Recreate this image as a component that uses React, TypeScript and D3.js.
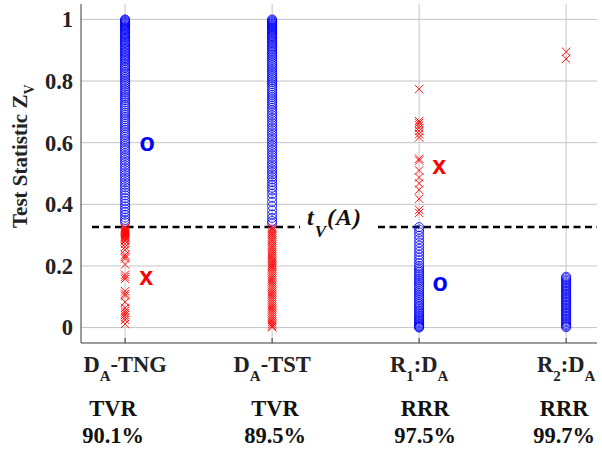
import React from "react";
import * as d3 from "d3";

// ---------- data ----------
const categories = ["DA-TNG", "DA-TST", "R1:DA", "R2:DA"];
const rateNames = ["TVR", "TVR", "RRR", "RRR"];
const rateValues = ["90.1%", "89.5%", "97.5%", "99.7%"];
const yTicks = [0, 0.2, 0.4, 0.6, 0.8, 1];
const threshold = 0.326;

// blue circles (class "o") per category
const tngCircles = [1.0, 0.998, 0.995, 0.992, 0.989, 0.986, 0.983, 0.979, 0.976, 0.972, 0.968, 0.965, 0.961, 0.957, 0.953, 0.949, 0.945, 0.941, 0.937, 0.932, 0.928, 0.924, 0.919, 0.914, 0.909, 0.904, 0.899, 0.894, 0.889, 0.884, 0.879, 0.874, 0.869, 0.864, 0.858, 0.852, 0.847, 0.842, 0.836, 0.830, 0.825, 0.819, 0.813, 0.807, 0.801, 0.795, 0.789, 0.783, 0.776, 0.770, 0.764, 0.757, 0.751, 0.745, 0.738, 0.731, 0.724, 0.718, 0.711, 0.704, 0.697, 0.690, 0.683, 0.676, 0.669, 0.662, 0.655, 0.648, 0.641, 0.633, 0.626, 0.619, 0.611, 0.604, 0.596, 0.589, 0.581, 0.574, 0.566, 0.558, 0.551, 0.543, 0.535, 0.527, 0.519, 0.511, 0.503, 0.495, 0.487, 0.479, 0.471, 0.463, 0.455, 0.446, 0.438, 0.429, 0.420, 0.411, 0.402, 0.393, 0.384, 0.375, 0.366, 0.357, 0.349, 0.342];
const tstCircles = [1.0, 0.997, 0.994, 0.991, 0.988, 0.985, 0.982, 0.979, 0.976, 0.973, 0.970, 0.966, 0.962, 0.958, 0.954, 0.950, 0.946, 0.942, 0.938, 0.933, 0.928, 0.923, 0.918, 0.913, 0.908, 0.903, 0.898, 0.893, 0.887, 0.881, 0.875, 0.869, 0.863, 0.857, 0.851, 0.845, 0.839, 0.833, 0.827, 0.821, 0.815, 0.809, 0.803, 0.797, 0.790, 0.783, 0.776, 0.769, 0.762, 0.755, 0.748, 0.741, 0.734, 0.727, 0.720, 0.713, 0.705, 0.697, 0.689, 0.681, 0.673, 0.665, 0.657, 0.649, 0.641, 0.633, 0.625, 0.617, 0.609, 0.601, 0.593, 0.585, 0.577, 0.569, 0.561, 0.553, 0.545, 0.537, 0.529, 0.521, 0.513, 0.505, 0.497, 0.489, 0.481, 0.472, 0.463, 0.454, 0.445, 0.434, 0.422, 0.408, 0.394, 0.380, 0.367, 0.356, 0.346, 0.338];
const r1Circles = [0.326, 0.318, 0.309, 0.298, 0.287, 0.276, 0.266, 0.256, 0.246, 0.236, 0.227, 0.218, 0.209, 0.200, 0.193, 0.186, 0.180, 0.173, 0.167, 0.160, 0.154, 0.148, 0.142, 0.136, 0.130, 0.124, 0.118, 0.112, 0.106, 0.100, 0.094, 0.088, 0.082, 0.077, 0.071, 0.066, 0.060, 0.055, 0.050, 0.045, 0.040, 0.035, 0.030, 0.026, 0.022, 0.018, 0.014, 0.010, 0.007, 0.004, 0.002, 0.0];
const r2Circles = [0.165, 0.161, 0.156, 0.152, 0.147, 0.143, 0.138, 0.134, 0.129, 0.125, 0.120, 0.116, 0.111, 0.107, 0.102, 0.098, 0.093, 0.089, 0.084, 0.080, 0.075, 0.071, 0.066, 0.062, 0.057, 0.053, 0.048, 0.044, 0.039, 0.035, 0.030, 0.026, 0.021, 0.017, 0.012, 0.008, 0.004, 0.001];

// red crosses (class "x") per category
const tngCrosses = [0.325, 0.322, 0.319, 0.316, 0.313, 0.310, 0.307, 0.304, 0.301, 0.298, 0.295, 0.292, 0.289, 0.285, 0.281, 0.272, 0.262, 0.252, 0.236, 0.230, 0.224, 0.205, 0.172, 0.165, 0.158, 0.118, 0.110, 0.104, 0.083, 0.064, 0.055, 0.048, 0.041, 0.033, 0.025, 0.012];
const tstCrosses = [0.325, 0.320, 0.314, 0.307, 0.301, 0.295, 0.288, 0.282, 0.276, 0.269, 0.262, 0.256, 0.249, 0.243, 0.236, 0.229, 0.222, 0.216, 0.210, 0.205, 0.201, 0.197, 0.192, 0.186, 0.179, 0.172, 0.165, 0.158, 0.151, 0.144, 0.137, 0.130, 0.123, 0.116, 0.109, 0.102, 0.095, 0.088, 0.081, 0.074, 0.067, 0.060, 0.053, 0.046, 0.039, 0.032, 0.025, 0.018, 0.011, 0.005, 0.001];
const r1Crosses = [0.774, 0.670, 0.664, 0.656, 0.648, 0.638, 0.628, 0.617, 0.548, 0.542, 0.510, 0.487, 0.468, 0.447, 0.418, 0.382, 0.372];
const r2Crosses = [0.895, 0.872];

const circleSeries = [tngCircles, tstCircles, r1Circles, r2Circles];
const crossSeries = [tngCrosses, tstCrosses, r1Crosses, r2Crosses];

// ---------- layout ----------
const W = 602;
const H = 452;
const left = 81;
const right = 597;
const top = 4;
const bottom = 343;
const serif = "Liberation Serif, Times New Roman, serif";
const sans = "Liberation Sans, Arial, sans-serif";
const BLUE = "#0000ff";
const RED = "#ff0000";
const rateShift = [-12, 3, 6, -2];
const FS = 22.5;

export default function App() {
  const x = d3.scaleLinear().domain([0.7, 4.21]).range([left, right]);
  const y = d3.scaleLinear().domain([-0.05, 1.05]).range([bottom, top]);
  const cx = (i: number) => x(i + 1);
  const r = 4.5;
  const s = 4.2;

  const catLabel = (c: string) => {
    if (c === "DA-TNG" || c === "DA-TST")
      return (
        <>
          D<tspan dy={9} fontSize={15}>A</tspan>
          <tspan dy={-9}>{c.slice(2)}</tspan>
        </>
      );
    const n = c[1];
    return (
      <>
        R<tspan dy={9} fontSize={15}>{n}</tspan>
        <tspan dy={-9}>:D</tspan>
        <tspan dy={9} fontSize={15}>A</tspan>
      </>
    );
  };

  const ty = y(threshold);

  return (
    <svg width={W} height={H} style={{ display: "block", position: "absolute", left: 0, top: 0 }}>
      <rect width={W} height={H} fill="#fff" />
      {/* grid */}
      {yTicks.map((t) => (
        <line key={"h" + t} x1={left} x2={right} y1={y(t)} y2={y(t)} stroke="#c4c4c4" strokeWidth={1} />
      ))}
      {categories.map((c, i) => (
        <line key={"v" + c} x1={cx(i)} x2={cx(i)} y1={top} y2={bottom} stroke="#c4c4c4" strokeWidth={1} />
      ))}
      {/* axes */}
      <line x1={left} x2={left} y1={top} y2={bottom} stroke="#3a3a3a" strokeWidth={1} />
      <line x1={left} x2={right} y1={bottom} y2={bottom} stroke="#3a3a3a" strokeWidth={1} />
      {categories.map((c, i) => (
        <line key={"tk" + c} x1={cx(i)} x2={cx(i)} y1={bottom} y2={bottom - 5} stroke="#3a3a3a" />
      ))}
      {/* y tick labels */}
      {yTicks.map((t) => (
        <text key={"yl" + t} x={73} y={y(t)} dy="0.35em" textAnchor="end" fontFamily={serif} fontWeight="bold" fontSize={FS} fill="#222">
          {String(t)}
        </text>
      ))}
      {/* y label */}
      <text transform="translate(27,228) rotate(-90)" fontFamily={serif} fontWeight="bold" fontSize={21} fill="#222">
        Test Statistic Z<tspan dy={7} fontSize={14}>V</tspan>
      </text>
      {/* threshold */}
      <line x1={92} x2={300} y1={ty} y2={ty} stroke="#000" strokeWidth={2.5} strokeDasharray="7,4.5" />
      <line x1={378} x2={right} y1={ty} y2={ty} stroke="#000" strokeWidth={2.5} strokeDasharray="7,4.5" />
      <text x={307} y={ty - 2} fontFamily={serif} fontWeight="bold" fontStyle="italic" fontSize={24} fill="#111" letterSpacing={1}>
        t<tspan dy={12} fontSize={17}>V</tspan>
        <tspan dy={-12}>(A)</tspan>
      </text>
      {/* circles */}
      {circleSeries.map((vals, i) =>
        vals.map((v, j) => (
          <circle key={"c" + i + "-" + j} cx={cx(i)} cy={y(v)} r={r} fill="none" stroke={BLUE} strokeWidth={0.8} />
        ))
      )}
      {/* crosses */}
      {crossSeries.map((vals, i) =>
        vals.map((v, j) => (
          <path
            key={"x" + i + "-" + j}
            d={`M${cx(i) - s},${y(v) - s}L${cx(i) + s},${y(v) + s}M${cx(i) - s},${y(v) + s}L${cx(i) + s},${y(v) - s}`}
            stroke={RED}
            strokeWidth={0.9}
            fill="none"
          />
        ))
      )}
      {/* class annotations */}
      <text x={cx(0) + 22} y={y(0.6)} dy="0.33em" textAnchor="middle" fontFamily={sans} fontWeight="bold" fontSize={25} fill={BLUE}>o</text>
      <text x={cx(0) + 21} y={y(0.165)} dy="0.33em" textAnchor="middle" fontFamily={sans} fontWeight="bold" fontSize={25} fill={RED}>x</text>
      <text x={cx(2) + 20} y={y(0.525)} dy="0.33em" textAnchor="middle" fontFamily={sans} fontWeight="bold" fontSize={25} fill={RED}>x</text>
      <text x={cx(2) + 21} y={y(0.145)} dy="0.33em" textAnchor="middle" fontFamily={sans} fontWeight="bold" fontSize={25} fill={BLUE}>o</text>
      {/* category labels */}
      {categories.map((c, i) => (
        <text key={"cl" + c} x={cx(i)} y={372} textAnchor="middle" fontFamily={serif} fontWeight="bold" fontSize={FS} fill="#222">
          {catLabel(c)}
        </text>
      ))}
      {rateNames.map((n, i) => (
        <text key={"rn" + i} x={cx(i) + rateShift[i]} y={416} textAnchor="middle" fontFamily={serif} fontWeight="bold" fontSize={FS} fill="#111">
          {n}
        </text>
      ))}
      {rateValues.map((n, i) => (
        <text key={"rv" + i} x={cx(i) + rateShift[i]} y={443} textAnchor="middle" fontFamily={serif} fontWeight="bold" fontSize={FS} fill="#111">
          {n}
        </text>
      ))}
    </svg>
  );
}
